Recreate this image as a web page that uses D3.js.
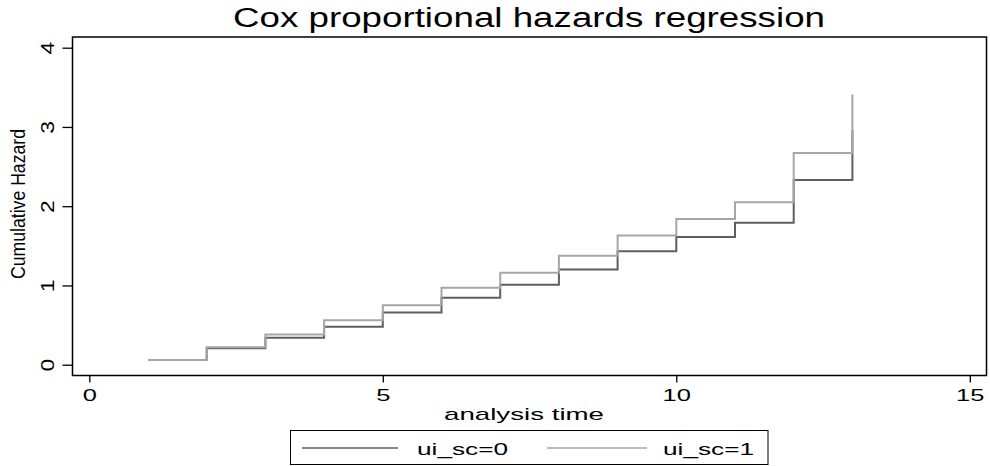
<!DOCTYPE html>
<meta charset="utf-8">
<script src="https://d3js.org/d3.v7.min.js"></script>
<style>
  body { margin: 0; background: #fff; }
  text { font-family: "Liberation Sans", Arial, sans-serif; fill: #000; }
</style>
<body>
<div id="my_dataviz"></div>
<script>

// data: cumulative hazard at each analysis time
var times = [1, 2, 3, 4, 5, 6, 7, 8, 9, 10, 11, 12, 13]
var hazard0 = [0.06, 0.207, 0.34, 0.48, 0.66, 0.845, 1.01, 1.20, 1.43, 1.61, 1.79, 2.33, 2.96]
var hazard1 = [0.06, 0.22, 0.38, 0.56, 0.75, 0.97, 1.16, 1.375, 1.63, 1.84, 2.05, 2.67, 3.41]
var seriesNames = ["ui_sc=0", "ui_sc=1"]
var xTicks = [0, 5, 10, 15]
var yTicks = [0, 1, 2, 3, 4]

var width = 990, height = 466

var svg = d3.select("#my_dataviz")
  .append("svg")
    .attr("width", width)
    .attr("height", height)

// plot box
var box = {left: 72.5, top: 37, right: 986.5, bottom: 375.5}

var x = d3.scaleLinear()
  .domain([0, 15])
  .range([89.3, 969.8])

var y = d3.scaleLinear()
  .domain([0, 4])
  .range([364.7, 47.7])

var color = d3.scaleOrdinal()
  .domain(seriesNames)
  .range(["#5f5f5f", "#a6a6a6"])

// title
svg.append("text")
  .attr("x", 529)
  .attr("y", 27)
  .attr("text-anchor", "middle")
  .attr("font-size", "27px")
  .attr("textLength", 592)
  .attr("lengthAdjust", "spacingAndGlyphs")
  .text("Cox proportional hazards regression")

// frame
svg.append("rect")
  .attr("x", box.left)
  .attr("y", box.top)
  .attr("width", box.right - box.left)
  .attr("height", box.bottom - box.top)
  .attr("fill", "none")
  .attr("stroke", "#000")
  .attr("stroke-width", 1.5)

// x axis
var xAxis = svg.append("g")
  .attr("transform", "translate(0," + box.bottom + ")")
  .call(d3.axisBottom(x).tickValues(xTicks).tickFormat(d3.format("d"))
    .tickSize(7).tickSizeOuter(0).tickPadding(6))
xAxis.select(".domain").remove()
xAxis.selectAll(".tick line").attr("stroke", "#000").attr("stroke-width", 1.3)
xAxis.selectAll(".tick text")
  .attr("font-size", "17px")
  .attr("font-family", "Liberation Sans, Arial, sans-serif")
  .attr("transform", "scale(1.5,1)")

svg.append("text")
  .attr("x", 524)
  .attr("y", 420)
  .attr("text-anchor", "middle")
  .attr("font-size", "17px")
  .attr("textLength", 160)
  .attr("lengthAdjust", "spacingAndGlyphs")
  .text("analysis time")

// y axis
var yAxis = svg.append("g")
  .attr("transform", "translate(" + box.left + ",0)")
  .call(d3.axisLeft(y).tickValues(yTicks).tickFormat(d3.format("d"))
    .tickSize(10).tickSizeOuter(0))
yAxis.select(".domain").remove()
yAxis.selectAll(".tick line").attr("stroke", "#000").attr("stroke-width", 1.3)
yAxis.selectAll(".tick text")
  .attr("x", null)
  .attr("dy", null)
  .attr("text-anchor", "middle")
  .attr("font-size", "17px")
  .attr("font-family", "Liberation Sans, Arial, sans-serif")
  .attr("transform", "translate(-19,0) rotate(-90) scale(1.35,1.1)")

svg.append("text")
  .attr("transform", "translate(25,204) rotate(-90)")
  .attr("text-anchor", "middle")
  .attr("font-size", "20px")
  .attr("textLength", 150)
  .attr("lengthAdjust", "spacingAndGlyphs")
  .text("Cumulative Hazard")

// step lines
var series = [
  {name: seriesNames[0], values: hazard0},
  {name: seriesNames[1], values: hazard1}
]

var line = d3.line()
  .curve(d3.curveStepAfter)
  .x(function(d) { return x(d[0]) })
  .y(function(d) { return y(d[1]) })

svg.append("g")
  .selectAll("path")
  .data(series)
  .enter().append("path")
    .attr("fill", "none")
    .attr("stroke", function(d) { return color(d.name) })
    .attr("stroke-width", 2)
    .attr("d", function(d) {
      return line(times.map(function(t, i) { return [t, d.values[i]] }))
    })

// legend
var legend = svg.append("g")
legend.append("rect")
  .attr("x", 290.5)
  .attr("y", 430.5)
  .attr("width", 477.5)
  .attr("height", 34)
  .attr("fill", "none")
  .attr("stroke", "#000")
  .attr("stroke-width", 1)

var legendPos = [{x1: 302, x2: 398, tx: 417}, {x1: 547, x2: 647, tx: 663}]
seriesNames.forEach(function(name, i) {
  var p = legendPos[i]
  legend.append("line")
    .attr("x1", p.x1).attr("x2", p.x2)
    .attr("y1", 448).attr("y2", 448)
    .attr("stroke", color(name))
    .attr("stroke-width", 1.5)
  legend.append("text")
    .attr("x", p.tx)
    .attr("y", 455)
    .attr("font-size", "17px")
    .attr("textLength", 91)
    .attr("lengthAdjust", "spacingAndGlyphs")
    .text(name)
})

</script>
</body>
